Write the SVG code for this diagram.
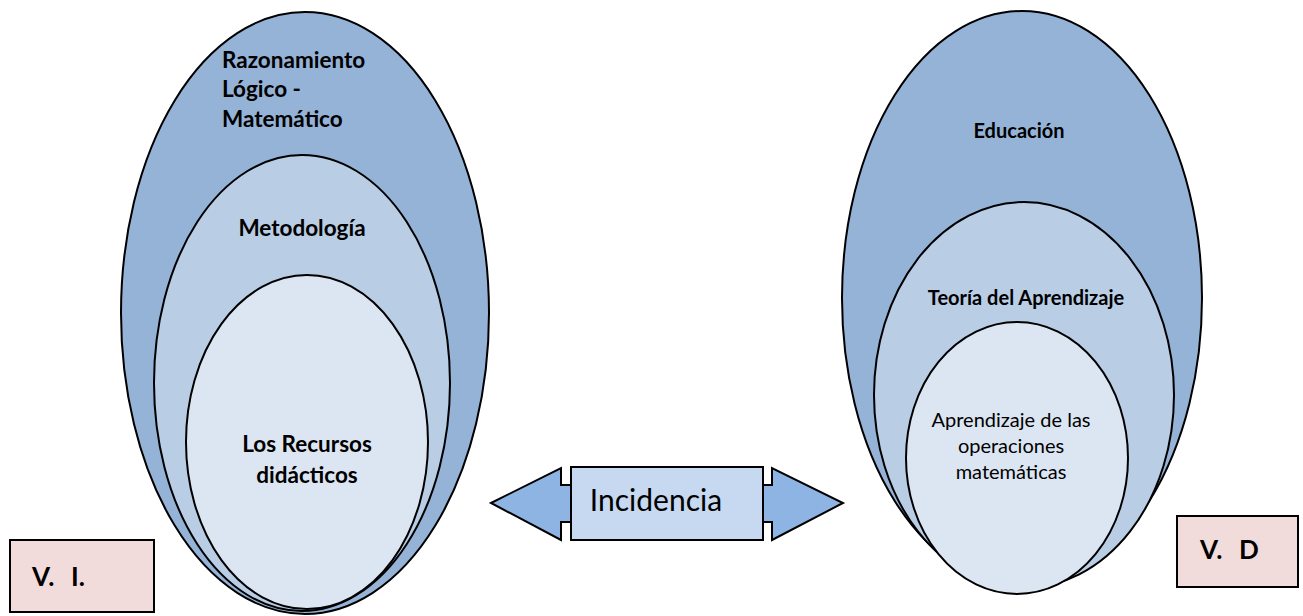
<svg xmlns="http://www.w3.org/2000/svg" width="1303" height="616" viewBox="0 0 1303 616">
<style>
.e{stroke:#000;stroke-width:2}
.o{fill:#95b3d7}
.m{fill:#b9cde5}
.i{fill:#dce6f2}
.b{font-family:Lato,"Liberation Sans",sans-serif;font-weight:bold;font-size:22.5px;fill:#000}
.bs{font-family:Lato,"Liberation Sans",sans-serif;font-weight:bold;font-size:20px;fill:#000}
.r{font-family:Lato,"Liberation Sans",sans-serif;font-size:20px;fill:#000}
.box{fill:#f2dcdb;stroke:#000;stroke-width:2}
.v{font-family:Lato,"Liberation Sans",sans-serif;font-weight:bold;font-size:26px;fill:#000;word-spacing:2px}
</style>
<rect width="1303" height="616" fill="#fff"/>
<g id="left-outer">
<ellipse class="e o" cx="305" cy="313" rx="184" ry="301"/>
<text class="b" x="222" y="68">Razonamiento</text>
<text class="b" x="222" y="97">Lógico -</text>
<text class="b" x="222" y="127">Matemático</text>
</g>
<g id="left-middle">
<ellipse class="e m" cx="302" cy="383" rx="148" ry="228"/>
<text class="b" x="302" y="236" text-anchor="middle">Metodología</text>
</g>
<g id="left-inner">
<ellipse class="e i" cx="307" cy="442" rx="121" ry="167"/>
<text class="b" x="307" y="452" text-anchor="middle">Los Recursos</text>
<text class="b" x="307" y="483" text-anchor="middle">didácticos</text>
</g>
<g id="right-outer">
<ellipse class="e o" cx="1022" cy="298" rx="180" ry="287"/>
<text class="bs" x="1019" y="138" text-anchor="middle">Educación</text>
</g>
<g id="right-middle">
<ellipse class="e m" cx="1024" cy="395" rx="150" ry="193"/>
<text class="bs" x="1026" y="305" text-anchor="middle">Teoría del Aprendizaje</text>
</g>
<g id="right-inner">
<ellipse class="e i" cx="1017" cy="458" rx="111" ry="136"/>
<text class="r" x="1011" y="427" text-anchor="middle">Aprendizaje de las</text>
<text class="r" x="1011" y="453" text-anchor="middle">operaciones</text>
<text class="r" x="1011" y="479" text-anchor="middle">matemáticas</text>
</g>
<g id="connectors">
<path d="M491,503 L561,468 L561,485 L772,485 L772,468 L843,503 L772,540 L772,522 L561,522 L561,540 Z" fill="#8eb4e3" stroke="#000" stroke-width="2" stroke-linejoin="miter"/>
</g>
<g id="incidencia">
<rect x="571" y="467" width="192" height="73" fill="#c6d9f1" stroke="#000" stroke-width="2"/>
<text x="656" y="511" text-anchor="middle" style="font-family:Lato,'Liberation Sans',sans-serif;font-size:30px;fill:#000">Incidencia</text>
</g>
<g id="vi">
<rect class="box" x="10" y="540" width="144" height="72"/>
<text class="v" x="32" y="586" xml:space="preserve">V.  I.</text>
</g>
<g id="vd">
<rect class="box" x="1177" y="516" width="121" height="71"/>
<text class="v" x="1200" y="559" xml:space="preserve">V.  D</text>
</g>
</svg>
